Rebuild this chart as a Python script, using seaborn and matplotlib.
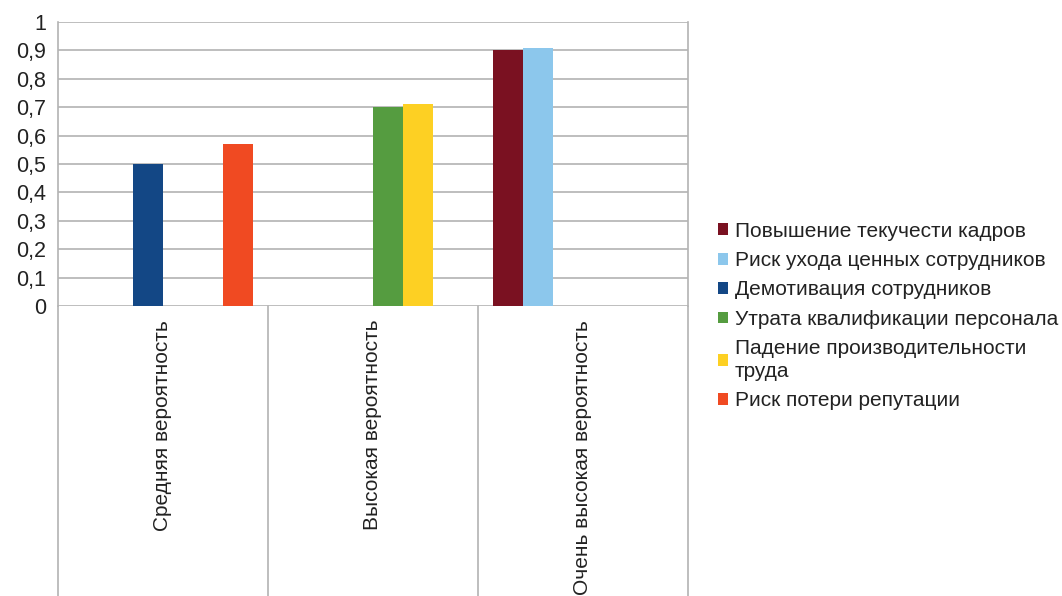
import matplotlib
matplotlib.use("Agg")
import matplotlib.pyplot as plt
import matplotlib.transforms as mtransforms
import seaborn as sns
import pandas as pd

categories = ["Средняя вероятность", "Высокая вероятность", "Очень высокая вероятность"]
series = [
    "Повышение текучести кадров",
    "Риск ухода ценных сотрудников",
    "Демотивация сотрудников",
    "Утрата квалификации персонала",
    "Падение производительности труда",
    "Риск потери репутации",
]
legend_labels = [
    "Повышение текучести кадров",
    "Риск ухода ценных сотрудников",
    "Демотивация сотрудников",
    "Утрата квалификации персонала",
    "Падение производительности\nтруда",
    "Риск потери репутации",
]
# values[series][category]
v_povyshenie = [0, 0, 0.90]
v_risk_uhoda = [0, 0, 0.91]
v_demotivacia = [0.50, 0, 0]
v_utrata = [0, 0.70, 0]
v_padenie = [0, 0.71, 0]
v_reputacia = [0.57, 0, 0]
values = [v_povyshenie, v_risk_uhoda, v_demotivacia, v_utrata, v_padenie, v_reputacia]
colors = ["#7A1121", "#8CC7EC", "#134785", "#559C40", "#FDD023", "#F04A22"]
yticks = [i / 10 for i in range(11)]
ytick_labels = ["0", "0,1", "0,2", "0,3", "0,4", "0,5", "0,6", "0,7", "0,8", "0,9", "1"]

rows = []
for s, vals in zip(series, values):
    for c, v in zip(categories, vals):
        rows.append({"cat": c, "series": s, "value": v})
df = pd.DataFrame(rows)

sns.set_style("white")
plt.rcParams["font.family"] = ["Liberation Sans", "DejaVu Sans"]

W, H = 1062, 596
fig = plt.figure(figsize=(W / 100, H / 100), dpi=100)
ax = fig.add_axes([58 / W, 1 - 306 / H, 630 / W, 284 / H])

sns.barplot(data=df, x="cat", y="value", hue="series", order=categories,
            hue_order=series, palette=colors, width=6 / 7, gap=0,
            saturation=1, ax=ax, legend=True, linewidth=0)

grid_c = "#b3b3b3"
txt_c = "#222222"
ax.set_ylim(0, 1)
ax.set_xlim(-0.5, 2.5)
ax.set_yticks(yticks)
ax.set_yticklabels(ytick_labels)
ax.yaxis.grid(True, color=grid_c, linewidth=1.2)
ax.set_axisbelow(True)
for sp in ["top", "bottom"]:
    ax.spines[sp].set_visible(False)
for sp in ["left", "right"]:
    ax.spines[sp].set_color(grid_c)
    ax.spines[sp].set_linewidth(1.2)
ax.tick_params(axis="y", length=6.5, width=1.2, color=grid_c, pad=2,
               labelsize=15.5, labelcolor=txt_c)
ax.tick_params(axis="x", length=0, pad=10, labelsize=15, labelcolor=txt_c)
ax.set_xticks(range(len(categories)))
ax.set_xticklabels(categories, rotation=90, ha="center", va="top")
ax.set_xlabel("")
ax.set_ylabel("")

trans = mtransforms.blended_transform_factory(ax.transData, ax.transAxes)
for xb in [-0.5, 0.5, 1.5, 2.5]:
    ax.plot([xb, xb], [0, -1.1], transform=trans, color=grid_c, lw=1.2,
            clip_on=False)

handles, _ = ax.get_legend_handles_labels()
ax.get_legend().remove()
leg = fig.legend(handles, legend_labels, loc="center left",
                 bbox_to_anchor=(718 / W, 1 - 316 / H), frameon=False,
                 fontsize=15, handlelength=0.5, handleheight=0.5,
                 handletextpad=0.3, labelspacing=0.5, borderpad=0,
                 borderaxespad=0, labelcolor=txt_c)
for t in leg.get_texts():
    t.set_linespacing(1.25)

fig.savefig("out.png", dpi=100)
